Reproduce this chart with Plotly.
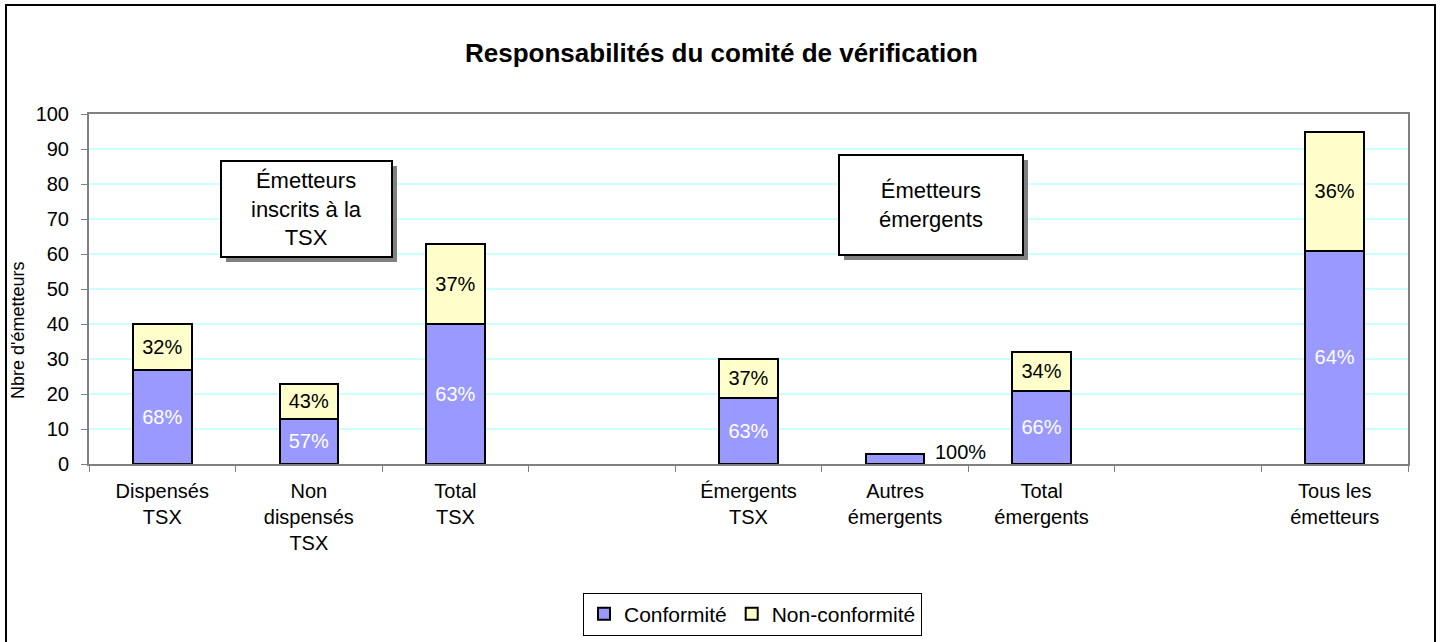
import plotly.graph_objects as go

categories = ["Dispensés<br>TSX", "Non<br>dispensés<br>TSX", "Total<br>TSX", " ",
              "Émergents<br>TSX", "Autres<br>émergents", "Total<br>émergents", "  ",
              "Tous les<br>émetteurs"]
conformite = [27, 13, 40, None, 19, 3, 21, None, 61]
non_conformite = [13, 10, 23, None, 11, 0, 11, None, 34]
conf_labels = ["68%", "57%", "63%", "", "63%", "", "66%", "", "64%"]
nonconf_labels = ["32%", "43%", "37%", "", "37%", "", "34%", "", "36%"]
outside_label_cat = "Autres<br>émergents"
outside_label_val = 3
outside_label_text = "100%"
y_ticks = list(range(0, 101, 10))

FONT = "Arial, Liberation Sans, sans-serif"

# pixel -> paper helpers (plot area 89..1408 x, 114..464 y)
L, R, T, B = 89, 1408, 114, 464
def px(x):
    return (x - L) / (R - L)
def py(y):
    return (B - y) / (B - T)

fig = go.Figure()
fig.add_trace(go.Bar(
    name="Conformité", x=categories, y=conformite,
    marker=dict(color="#9999ff", line=dict(color="black", width=2)),
    text=conf_labels, textposition="inside", insidetextanchor="middle",
    textangle=0, textfont=dict(color="white", size=20, family=FONT),
    hoverinfo="x+y"))
fig.add_trace(go.Bar(
    name="Non-conformité", x=categories, y=non_conformite,
    marker=dict(color="#ffffcc", line=dict(color="black", width=2)),
    text=nonconf_labels, textposition="inside", insidetextanchor="middle",
    textangle=0, textfont=dict(color="black", size=20, family=FONT),
    hoverinfo="x+y"))

shapes = [
    # outer chart frame
    dict(type="rect", xref="paper", yref="paper", x0=px(6), x1=px(1435), y0=py(660), y1=py(5),
         line=dict(color="black", width=2), fillcolor="rgba(0,0,0,0)", layer="below"),
    # box 1 shadow + box
    dict(type="rect", xref="paper", yref="paper", x0=px(226), x1=px(397), y0=py(262), y1=py(166),
         line=dict(width=0), fillcolor="#808080", layer="above"),
    dict(type="rect", xref="paper", yref="paper", x0=px(221), x1=px(392), y0=py(257), y1=py(161),
         line=dict(color="black", width=2), fillcolor="white", layer="above"),
    # box 2 shadow + box
    dict(type="rect", xref="paper", yref="paper", x0=px(844), x1=px(1028), y0=py(260), y1=py(160),
         line=dict(width=0), fillcolor="#808080", layer="above"),
    dict(type="rect", xref="paper", yref="paper", x0=px(839), x1=px(1023), y0=py(255), y1=py(155),
         line=dict(color="black", width=2), fillcolor="white", layer="above"),
]

annotations = [
    dict(text="Émetteurs<br>inscrits à la<br>TSX", xref="paper", yref="paper",
         x=px(306.5), y=py(209), xanchor="center", yanchor="middle", showarrow=False,
         font=dict(size=22, family=FONT, color="black")),
    dict(text="Émetteurs<br>émergents", xref="paper", yref="paper",
         x=px(931), y=py(205), xanchor="center", yanchor="middle", showarrow=False,
         font=dict(size=22, family=FONT, color="black")),
    dict(text=outside_label_text, x=outside_label_cat, y=outside_label_val, xref="x", yref="y",
         xanchor="left", yanchor="middle", xshift=38, yshift=2, showarrow=False,
         font=dict(size=20, family=FONT, color="black")),
    dict(text="Nbre d'émetteurs", xref="paper", yref="paper", x=px(18), y=py(330),
         xanchor="center", yanchor="middle",
         textangle=-90, showarrow=False, font=dict(size=18, family=FONT, color="black")),
    dict(text="<b>Responsabilités du comité de vérification</b>", xref="paper", yref="paper",
         x=px(721), y=py(53), xanchor="center", yanchor="middle", showarrow=False,
         font=dict(size=26, family=FONT, color="black")),
]

fig.update_layout(
    width=1441, height=642,
    margin=dict(l=L, r=1441 - R, t=T, b=642 - B, pad=0, autoexpand=False),
    paper_bgcolor="white", plot_bgcolor="white",
    barmode="stack", bargap=0.6,
    font=dict(family=FONT, size=20, color="black"),
    showlegend=True,
    legend=dict(orientation="h", x=px(752.5), y=py(614), xanchor="center", yanchor="middle",
                bordercolor="black", borderwidth=1, bgcolor="white",
                font=dict(size=21, family=FONT, color="black"), traceorder="normal",
                itemwidth=30),
    shapes=shapes, annotations=annotations,
    uniformtext=dict(mode="show", minsize=20),
)
fig.update_xaxes(type="category", categoryorder="array", categoryarray=categories,
                 showline=True, linecolor="#808080", linewidth=2, mirror=True,
                 ticks="outside", tickson="boundaries", ticklen=6, tickcolor="#808080",
                 tickwidth=1, showgrid=False, tickfont=dict(size=20, family=FONT, color="black"),
                 ticklabelstandoff=8, automargin=False)
fig.update_yaxes(range=[0, 100], tickvals=y_ticks, showline=True, linecolor="#808080",
                 linewidth=2, mirror=True, ticks="outside", ticklen=6, tickcolor="#808080",
                 showgrid=True, gridcolor="#ccffff", gridwidth=2, zeroline=False,
                 tickfont=dict(size=20, family=FONT, color="black"), ticklabelstandoff=8,
                 automargin=False)

fig.write_html("out.html", config={"displayModeBar": False},
               post_script="document.body.style.margin='0px';")
